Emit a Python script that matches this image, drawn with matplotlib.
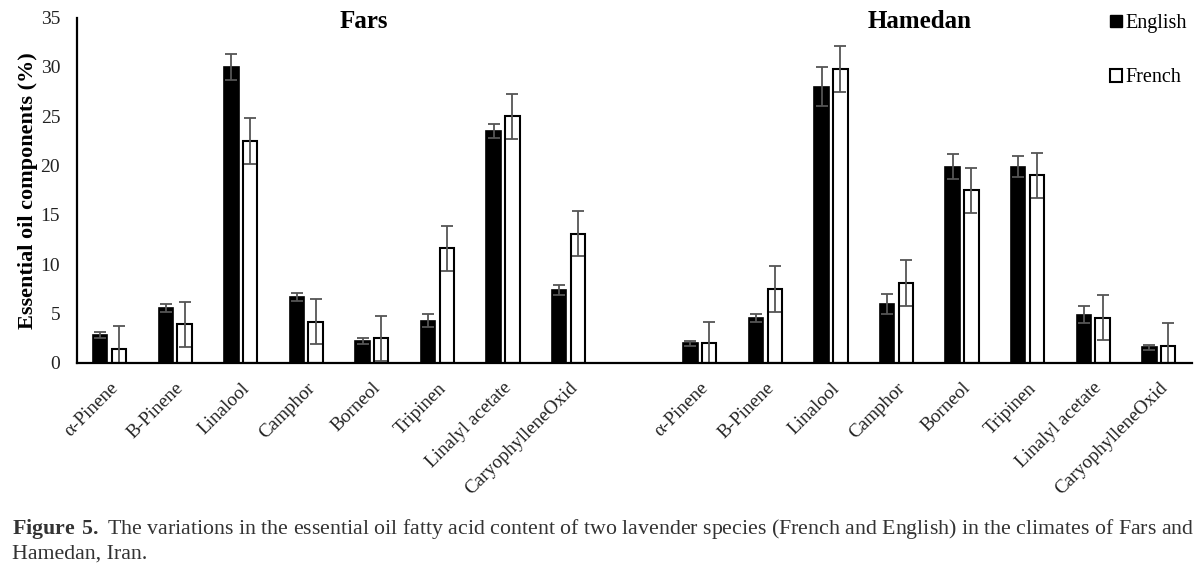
import numpy as np
import matplotlib
matplotlib.use('Agg')
import matplotlib.pyplot as plt
from matplotlib.patches import Patch

plt.rcParams['font.family'] = ['Liberation Serif', 'DejaVu Serif']
plt.rcParams['mathtext.fontset'] = 'custom'
plt.rcParams['mathtext.rm'] = 'Liberation Serif'
plt.rcParams['mathtext.bf'] = 'Liberation Serif:bold'

components = ['α-Pinene', 'B-Pinene', 'Linalool', 'Camphor', 'Borneol',
              'Tripinen', 'Linalyl acetate', 'CaryophylleneOxid']
regions = ['Fars', 'Hamedan']

# Fars
fars_english = [2.8, 5.6, 30.0, 6.7, 2.2, 4.3, 23.5, 7.4]
fars_english_err = [0.3, 0.4, 1.3, 0.4, 0.3, 0.7, 0.7, 0.5]
fars_french = [1.4, 3.9, 22.5, 4.2, 2.5, 11.6, 25.0, 13.1]
fars_french_err = [2.3, 2.3, 2.3, 2.3, 2.3, 2.3, 2.3, 2.3]

# Hamedan
ham_english = [2.0, 4.6, 28.0, 6.0, 19.9, 19.9, 4.9, 1.6]
ham_english_err = [0.25, 0.4, 2.0, 1.0, 1.3, 1.1, 0.9, 0.25]
ham_french = [2.0, 7.5, 29.8, 8.1, 17.5, 19.0, 4.6, 1.7]
ham_french_err = [2.2, 2.3, 2.3, 2.3, 2.3, 2.3, 2.3, 2.3]

fig = plt.figure(figsize=(12, 5.68), dpi=100)
ax = fig.add_axes([0.064, 0.361, 0.929, 0.608])

n = len(components)
x_fars = np.arange(n)
x_ham = np.arange(n) + n + 1
x_all = np.concatenate([x_fars, x_ham])

english = np.array(fars_english + ham_english)
english_err = np.array(fars_english_err + ham_english_err)
french = np.array(fars_french + ham_french)
french_err = np.array(fars_french_err + ham_french_err)

w = 0.22
off = 0.143
err_kw = dict(ecolor='#555555', elinewidth=1.3, capsize=4, capthick=1.3)

ax.bar(x_all - off, english, w, color='black', edgecolor='black',
       linewidth=1.2, yerr=english_err, error_kw=err_kw, zorder=2)
ax.bar(x_all + off, french, w, color='white', edgecolor='black',
       linewidth=1.5, yerr=french_err, error_kw=err_kw, zorder=2)

ax.set_xlim(-0.5, x_all[-1] + 0.5)
ax.set_ylim(0, 35)
ax.set_yticks(np.arange(0, 36, 5))
ax.tick_params(axis='y', length=0, labelsize=14, pad=12, labelcolor='#222222')
ax.tick_params(axis='x', length=0, pad=12, labelcolor='#222222')
ax.set_xticks(x_all)
ax.set_xticklabels(components * 2, rotation=45, ha='right',
                   rotation_mode='anchor', fontsize=13.8)

for s in ['top', 'right']:
    ax.spines[s].set_visible(False)
for s in ['left', 'bottom']:
    ax.spines[s].set_linewidth(1.6)
    ax.spines[s].set_color('black')

ax.set_ylabel('Essential oil components (%)', fontsize=16, fontweight='bold',
              labelpad=2)

ax.text(3.87, 34.6, regions[0], ha='center', va='center', fontsize=18,
        fontweight='bold')
ax.text(12.36, 34.6, regions[1], ha='center', va='center', fontsize=18,
        fontweight='bold')

handles = [Patch(facecolor='black', edgecolor='black', label='English'),
           Patch(facecolor='white', edgecolor='black', linewidth=1.5,
                 label='French')]
fig.legend(handles=handles, loc='upper left', bbox_to_anchor=(0.913, 1.0),
           frameon=False, fontsize=14.5, handlelength=0.6, handleheight=0.6,
           handletextpad=0.2, labelspacing=1.75, borderpad=0.2)

fig.text(0.01, 0.068, r'$\bf{Figure\ 5.}$' + ' The variations in the essential oil fatty acid '
         'content of two lavender species (French and English) in the climates of Fars and',
         fontsize=15.75, color='#333333', ha='left', va='center')
fig.text(0.01, 0.025, 'Hamedan, Iran.', fontsize=15.75, color='#333333',
         ha='left', va='center')

fig.savefig('out.png', dpi=100)
